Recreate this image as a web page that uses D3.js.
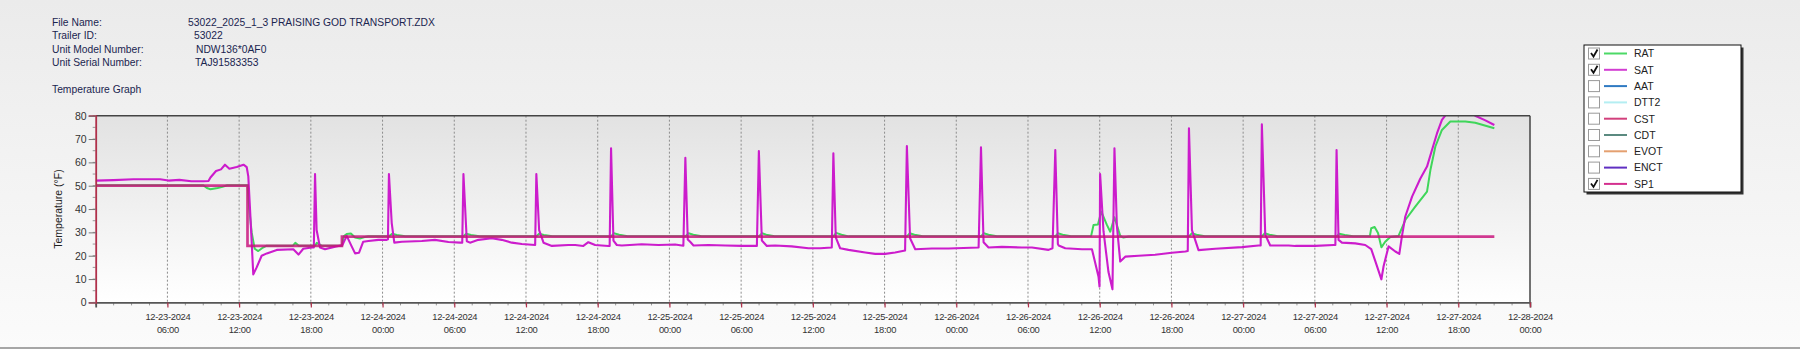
<!DOCTYPE html>
<html>
<head>
<meta charset="utf-8">
<script src="https://cdn.jsdelivr.net/npm/d3@7"></script>
<style>
  html, body { margin: 0; padding: 0; background: #f4f4f4; }
  svg { display: block; font-family: "Liberation Sans", Arial, sans-serif; }
  .hdr { font-size: 10.3px; fill: #1a2550; }
  .tick text { fill: #333; }
</style>
</head>
<body>
<svg id="chart" width="1800" height="349"></svg>
<script>
// header info
var headerLabels = ["File Name:", "Trailer ID:", "Unit Model Number:", "Unit Serial Number:"];
var headerValues = ["53022_2025_1_3 PRAISING GOD TRANSPORT.ZDX", "53022", "NDW136*0AF0", "TAJ91583353"];
var headerValueX = [188, 194, 196, 195];

// legend
var legendNames = ["RAT", "SAT", "AAT", "DTT2", "CST", "CDT", "EVOT", "ENCT", "SP1"];
var legendColors = ["#4cd966", "#d23ed2", "#2f7ac2", "#b4eef2", "#d2407c", "#5b8a80", "#e4a070", "#6030c2", "#d4308f"];
var legendChecked = [true, true, false, false, false, false, false, false, true];

// series: [hours since 12-23-2024 00:00, °F]
var satPoints = [
  [0, 52.2], [1.5, 52.4], [3.15, 52.8], [5.38, 52.8], [6.08, 52.2], [7.0, 52.5], [8.0, 51.9], [9.0, 51.9],
  [9.43, 52.0], [9.6, 53.5], [10.07, 56.3], [10.49, 57.0], [10.82, 59.0], [11.18, 57.3], [11.8, 58.0],
  [12.36, 59.0], [12.63, 58.0], [12.77, 54.0], [12.91, 39.6], [13.19, 12.0], [13.47, 15.0], [13.89, 20.0],
  [14.31, 21.0], [15.15, 22.5], [16.54, 22.8], [16.96, 20.5], [17.37, 23.0], [18.07, 23.5], [18.25, 23.5],
  [18.35, 55.0], [18.49, 31.0], [18.77, 23.5], [19.19, 22.8], [20.03, 23.9], [20.64, 24.5], [21.0, 28.5],
  [21.42, 24.0], [21.7, 21.0], [22.03, 21.3], [22.39, 26.0], [22.81, 26.3], [23.65, 26.8], [24.35, 26.8],
  [24.45, 27.0], [24.54, 55.0], [24.77, 34.0], [24.99, 25.6], [25.61, 26.0], [27.28, 26.3], [28.39, 26.8],
  [29.51, 25.9], [30.49, 25.6], [30.66, 25.6], [30.76, 55.0], [31.05, 26.2], [31.32, 25.6], [32.02, 26.8],
  [33.14, 27.5], [33.97, 26.8], [34.81, 25.6], [35.65, 25.0], [36.76, 24.6], [36.87, 55.0], [37.1, 31.0],
  [37.46, 25.6], [38.16, 24.2], [39.55, 24.6], [40.11, 24.6], [40.8, 24.2], [41.22, 25.8], [41.78, 24.6],
  [42.9, 24.2], [43.0, 24.2], [43.12, 66.0], [43.31, 26.5], [43.6, 24.6], [44.02, 24.4], [45.69, 24.9],
  [47.08, 24.6], [48.48, 24.8], [49.17, 24.3], [49.34, 62.0], [49.54, 27.0], [49.73, 26.0], [50.01, 24.4],
  [51.26, 24.6], [52.66, 24.4], [54.06, 24.2], [55.31, 24.2], [55.48, 64.9], [55.73, 26.5], [56.15, 24.2],
  [56.85, 24.4], [58.24, 24.0], [59.63, 23.2], [60.61, 23.2], [61.59, 23.5], [61.72, 63.9], [61.92, 27.9],
  [62.28, 23.2], [62.98, 22.5], [64.38, 21.4], [65.21, 20.8], [66.05, 20.8], [66.89, 21.4], [67.72, 22.2],
  [67.87, 67.0], [68.14, 27.5], [68.56, 22.8], [69.96, 23.1], [71.35, 23.1], [73.86, 23.5], [74.06, 66.5],
  [74.28, 25.8], [74.7, 23.5], [75.82, 23.8], [77.49, 23.5], [78.33, 23.5], [79.72, 22.5], [80.05, 23.2],
  [80.28, 65.3], [80.5, 25.0], [80.56, 24.4], [81.11, 23.2], [82.51, 22.8], [83.35, 22.8], [83.9, 11.0],
  [83.98, 6.8], [84.04, 55.0], [84.32, 30.5], [84.74, 13.0], [85.07, 5.6], [85.24, 66.0], [85.44, 33.0],
  [85.72, 17.5], [86.13, 19.6], [87.25, 20.0], [88.64, 20.4], [90.04, 21.3], [91.16, 21.8], [91.36, 22.0],
  [91.46, 74.6], [91.72, 31.0], [92.27, 22.4], [93.67, 23.0], [95.9, 23.7], [97.29, 24.4], [97.47, 24.4],
  [97.57, 76.3], [97.85, 29.0], [98.27, 24.4], [99.8, 24.4], [100.36, 24.2], [102.03, 24.2], [103.57, 24.6],
  [103.72, 24.6], [103.82, 65.3], [103.98, 26.8], [104.27, 25.6], [105.38, 25.3], [106.22, 24.6],
  [106.72, 22.8], [107.05, 17.8], [107.56, 9.9], [107.75, 15.5], [108.17, 24.0], [108.73, 21.8],
  [109.06, 20.8], [109.29, 28.3], [109.57, 36.8], [110.13, 45.3], [110.82, 53.0], [111.38, 58.2],
  [111.8, 65.3], [112.22, 72.4], [112.64, 78.2], [113.05, 81.0], [113.5, 83.0], [114.59, 82.5],
  [115.42, 80.0], [116.26, 78.0], [117.01, 76.0]
];

var ratPoints = [
  [0, 50.2], [9.0, 50.2], [9.3, 49.0], [9.6, 48.5], [10.2, 49.0], [10.6, 49.5], [11.0, 50.2], [12.7, 50.2],
  [12.85, 40.0], [13.05, 30.0], [13.3, 23.0], [13.6, 22.0], [14.0, 23.5], [14.3, 24.3], [16.5, 24.3],
  [16.7, 25.5], [17.0, 24.3], [18.35, 24.3], [18.5, 25.5], [18.9, 24.3], [20.6, 24.3], [20.75, 28.3],
  [21.0, 29.3], [21.35, 29.5], [21.7, 27.8], [22.1, 27.4], [22.5, 28.0], [22.8, 28.3],
  [24.54, 28.3], [24.8, 29.4], [25.2, 28.9], [25.9, 28.3],
  [30.76, 28.3], [31.0, 29.4], [31.4, 28.9], [32.1, 28.3],
  [36.87, 28.3], [37.1, 29.4], [37.5, 28.9], [38.2, 28.3],
  [43.12, 28.3], [43.35, 29.6], [43.8, 29.0], [44.5, 28.3],
  [49.34, 28.3], [49.6, 29.6], [50.0, 29.0], [50.7, 28.3],
  [55.48, 28.3], [55.75, 29.6], [56.1, 29.0], [56.8, 28.3],
  [61.72, 28.3], [61.95, 29.8], [62.4, 29.0], [63.0, 28.3],
  [67.87, 28.3], [68.1, 29.6], [68.5, 29.0], [69.2, 28.3],
  [74.06, 28.3], [74.3, 29.6], [74.7, 29.0], [75.4, 28.3],
  [80.28, 28.3], [80.5, 29.6], [80.9, 29.0], [81.6, 28.3],
  [83.29, 28.5], [83.48, 33.2], [83.85, 33.4], [84.13, 38.9], [84.6, 33.2], [84.88, 30.3], [85.24, 36.5],
  [85.72, 28.5], [85.99, 27.8], [86.41, 28.2],
  [91.46, 28.3], [91.7, 29.6], [92.1, 29.0], [92.8, 28.3],
  [97.57, 28.3], [97.8, 29.6], [98.2, 29.0], [98.9, 28.3],
  [103.82, 28.3], [104.05, 29.4], [104.5, 28.9], [105.2, 28.3],
  [106.6, 28.3], [106.72, 31.8], [107.0, 32.3], [107.28, 29.7], [107.56, 23.6], [107.89, 26.0],
  [108.31, 28.0], [109.0, 28.5], [109.57, 35.3], [110.4, 41.0], [111.38, 47.5], [111.66, 56.7],
  [112.08, 66.8], [112.64, 73.9], [113.33, 77.5], [114.59, 77.5], [115.42, 77.0], [117.01, 74.6]
];

var sp1Points = [[0, 50.0], [12.7, 50.0], [12.7, 24.2], [20.6, 24.2], [20.6, 28.2], [117.01, 28.2]];

var startDate = new Date(2024, 11, 23, 0, 0);
var endDate = new Date(2024, 11, 28, 0, 0);
var yTicks = [0, 10, 20, 30, 40, 50, 60, 70, 80];

var svg = d3.select("#chart");
var width = +svg.attr("width");
var height = +svg.attr("height");

var plotLeft = 95.7, plotRight = 1530, plotTop = 115.7, plotBottom = 302.4;

function toDate(h) { return d3.timeMinute.offset(startDate, Math.round(h * 60)); }

var x = d3.scaleTime().domain([startDate, endDate]).range([plotLeft, plotRight]);
var y = d3.scaleLinear().domain([0, 80]).range([plotBottom, plotTop]);

var defs = svg.append("defs");
var bg = defs.append("linearGradient").attr("id", "bgGrad").attr("x1", 0).attr("y1", 0).attr("x2", 0).attr("y2", 1);
bg.append("stop").attr("offset", "0%").attr("stop-color", "#ebebeb");
bg.append("stop").attr("offset", "100%").attr("stop-color", "#fbfbfb");
var pg = defs.append("linearGradient").attr("id", "plotGrad").attr("x1", 0).attr("y1", 0).attr("x2", 0).attr("y2", 1);
pg.append("stop").attr("offset", "0%").attr("stop-color", "#e2e2e2");
pg.append("stop").attr("offset", "100%").attr("stop-color", "#ffffff");
defs.append("clipPath").attr("id", "plotClip")
  .append("rect")
    .attr("x", plotLeft).attr("y", plotTop)
    .attr("width", plotRight - plotLeft).attr("height", plotBottom - plotTop);

// page background
svg.append("rect").attr("width", width).attr("height", height).attr("fill", "url(#bgGrad)");
svg.append("line").attr("x1", 0).attr("x2", width).attr("y1", 348).attr("y2", 348)
  .attr("stroke", "#8a8a8a").attr("stroke-width", 1.5);

// header text
var hdr = svg.append("g");
headerLabels.forEach(function(lbl, i) {
  hdr.append("text").attr("class", "hdr").attr("x", 52).attr("y", 25.5 + i * 13.6).text(lbl);
  hdr.append("text").attr("class", "hdr").attr("x", headerValueX[i]).attr("y", 25.5 + i * 13.6).text(headerValues[i]);
});
hdr.append("text").attr("class", "hdr").attr("x", 52).attr("y", 93).text("Temperature Graph");

// plot background
svg.append("rect")
  .attr("x", plotLeft).attr("y", plotTop)
  .attr("width", plotRight - plotLeft).attr("height", plotBottom - plotTop)
  .attr("fill", "url(#plotGrad)");

// vertical grid lines every 6 hours
var majorTicks = d3.timeHour.every(6).range(startDate, d3.timeMinute.offset(endDate, 1));
svg.append("g")
  .selectAll("line")
  .data(majorTicks.filter(function(d) { return +d > +startDate && +d < +endDate; }))
  .enter().append("line")
    .attr("x1", function(d) { return x(d); })
    .attr("x2", function(d) { return x(d); })
    .attr("y1", plotTop).attr("y2", plotBottom)
    .attr("stroke", "#8c8c8c").attr("stroke-width", 1)
    .attr("stroke-dasharray", "2,2");

// series
var line = d3.line()
  .x(function(d) { return x(toDate(d[0])); })
  .y(function(d) { return y(d[1]); });

var series = svg.append("g").attr("clip-path", "url(#plotClip)");
series.append("path").datum(ratPoints)
  .attr("d", line).attr("fill", "none")
  .attr("stroke", "#3fd65a").attr("stroke-width", 2).attr("stroke-linejoin", "round");
series.append("path").datum(satPoints)
  .attr("d", line).attr("fill", "none")
  .attr("stroke", "#cc1ccc").attr("stroke-width", 2.1).attr("stroke-linejoin", "round");
series.append("path").datum(sp1Points)
  .attr("d", line).attr("fill", "none")
  .attr("stroke", "#c8107a").attr("stroke-opacity", 0.82).attr("stroke-width", 2.7);

// plot frame
svg.append("line").attr("x1", plotLeft).attr("x2", plotRight).attr("y1", plotTop).attr("y2", plotTop)
  .attr("stroke", "#444").attr("stroke-width", 1.5);
svg.append("line").attr("x1", plotRight).attr("x2", plotRight).attr("y1", plotTop).attr("y2", plotBottom)
  .attr("stroke", "#444").attr("stroke-width", 1.5);

// x axis
var minorX = d3.range(0, 121, 1.5).map(toDate);
var xMinor = svg.append("g");
xMinor.selectAll("line").data(minorX).enter().append("line")
  .attr("x1", function(d) { return x(d); }).attr("x2", function(d) { return x(d); })
  .attr("y1", plotBottom).attr("y2", plotBottom + 3)
  .attr("stroke", "#999").attr("stroke-width", 1);

var xAxis = svg.append("g")
  .attr("transform", "translate(0," + plotBottom + ")")
  .call(d3.axisBottom(x)
    .tickValues(majorTicks.filter(function(d) { return +d > +startDate; }))
    .tickSize(5)
    .tickFormat(""));
xAxis.select(".domain").attr("stroke", "#555").attr("stroke-width", 1.8);
xAxis.selectAll(".tick line").attr("stroke", "#b0304a").attr("stroke-width", 1.2);
var fmtDate = d3.timeFormat("%m-%d-%Y"), fmtTime = d3.timeFormat("%H:%M");
xAxis.selectAll(".tick").each(function(d) {
  var t = d3.select(this).append("text")
    .attr("fill", "#333").attr("font-size", 9.4).attr("text-anchor", "middle")
    .attr("letter-spacing", "-0.3px");
  t.append("tspan").attr("x", 0).attr("y", 18).text(fmtDate(d));
  t.append("tspan").attr("x", 0).attr("y", 30.5).text(fmtTime(d));
});

// y axis
var minorY = d3.range(0, 81, 5);
svg.append("g").selectAll("line").data(minorY).enter().append("line")
  .attr("x1", plotLeft - 3).attr("x2", plotLeft)
  .attr("y1", function(d) { return y(d); }).attr("y2", function(d) { return y(d); })
  .attr("stroke", "#999");

var yAxis = svg.append("g")
  .attr("transform", "translate(" + plotLeft + ",0)")
  .call(d3.axisLeft(y).tickValues(yTicks).tickSize(7).tickPadding(2));
yAxis.select(".domain").attr("stroke", "#b0304a").attr("stroke-width", 1.8);
yAxis.selectAll(".tick line").attr("stroke", "#777");
yAxis.selectAll(".tick text").attr("font-size", 10.5).attr("font-family", "Liberation Sans, Arial, sans-serif");

svg.append("text")
  .attr("transform", "translate(62," + ((plotTop + plotBottom) / 2) + ") rotate(-90)")
  .attr("text-anchor", "middle")
  .attr("font-size", 10.5).attr("fill", "#222")
  .text("Temperature (°F)");

// legend
var lg = svg.append("g").attr("transform", "translate(1584,45)");
lg.append("rect").attr("x", 2.5).attr("y", 2.5).attr("width", 157).attr("height", 147).attr("fill", "#333");
lg.append("rect").attr("x", 0).attr("y", 0).attr("width", 157).attr("height", 147)
  .attr("fill", "#fff").attr("stroke", "#111").attr("stroke-width", 1);
var rows = lg.selectAll("g.row").data(legendNames).enter().append("g")
  .attr("class", "row")
  .attr("transform", function(d, i) { return "translate(0," + (8.5 + i * 16.3) + ")"; });
rows.append("rect").attr("x", 4.5).attr("y", -5.5).attr("width", 11).attr("height", 11)
  .attr("fill", "#fff").attr("stroke", "#9a9a9a");
rows.filter(function(d, i) { return legendChecked[i]; })
  .append("path").attr("d", "M7,-0.5 L9.5,3 L13.5,-4")
  .attr("fill", "none").attr("stroke", "#111").attr("stroke-width", 1.8);
rows.append("line").attr("x1", 20).attr("x2", 43).attr("y1", 0).attr("y2", 0)
  .attr("stroke", function(d, i) { return legendColors[i]; }).attr("stroke-width", 2);
rows.append("text").attr("x", 50).attr("y", 3.8)
  .attr("font-size", 10.5).attr("fill", "#222")
  .text(function(d) { return d; });
</script>
</body>
</html>
